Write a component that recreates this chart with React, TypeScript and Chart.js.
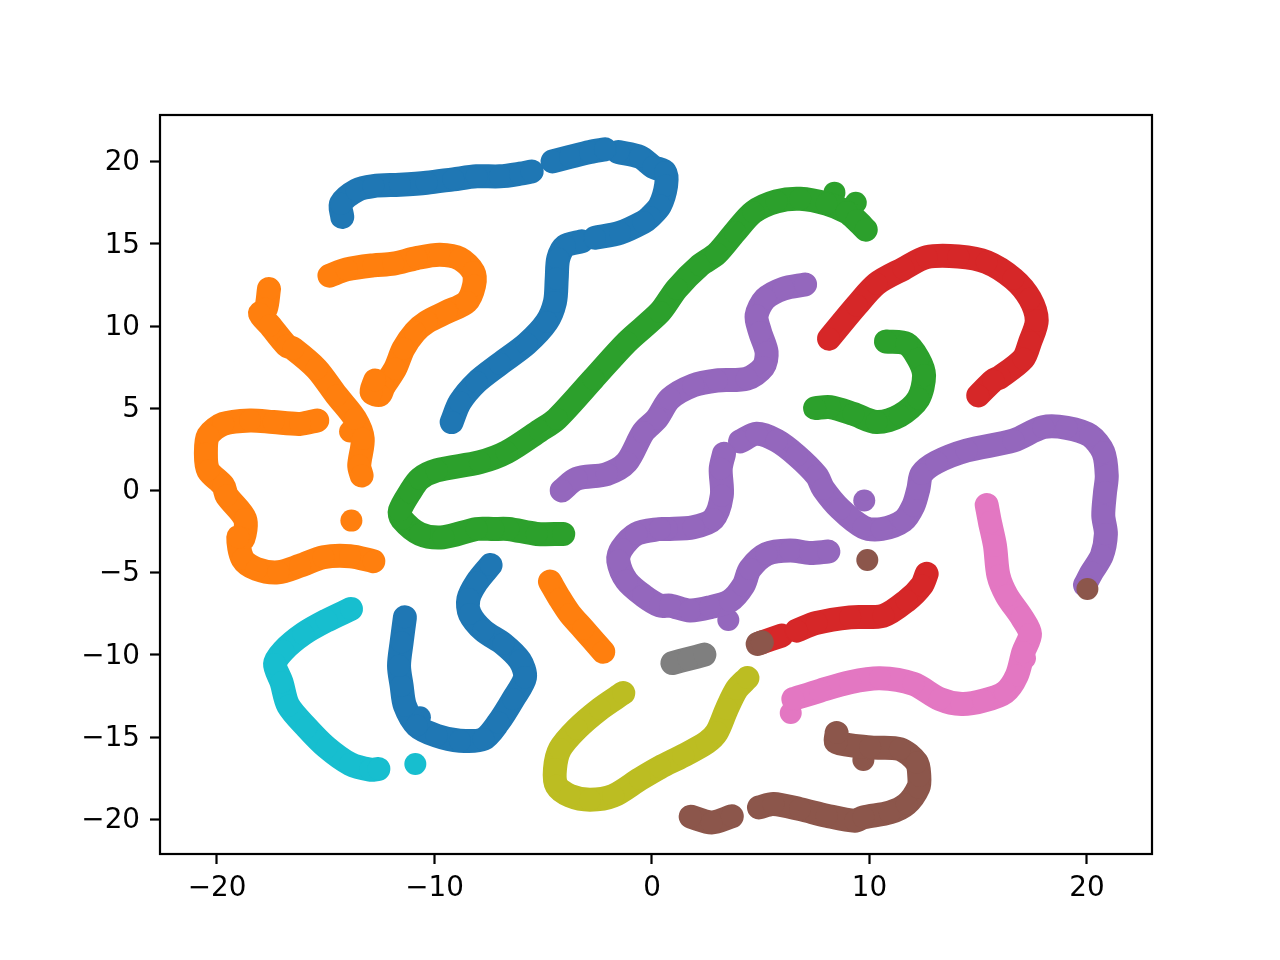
import React, { useEffect, useRef } from "react";
import { Chart, registerables } from "chart.js";

Chart.register(...registerables);

type P = [number, number];

const xTicks = [-20, -10, 0, 10, 20];
const yTicks = [-20, -15, -10, -5, 0, 5, 10, 15, 20];

const blueTop: P[] = [[-14.24,16.63],[-14.30,17.44],[-13.58,18.25],[-12.81,18.51],[-11.59,18.59],[-10.36,18.71],[-9.13,18.92],[-8.06,19.10],[-6.99,19.10],[-6.07,19.26],[-5.53,19.40]];
const blueLong: P[] = [[-4.57,20.01],[-3.77,20.28],[-2.85,20.58],[-2.16,20.74]];
const blueHook: P[] = [[-1.55,20.58],[-0.55,20.28],[0.06,19.67],[0.6,19.36],[0.65,18.55],[0.37,17.33],[-0.09,16.63],[-0.40,16.32],[-1.47,15.67],[-2.62,15.37]];
const blueDown: P[] = [[-3.23,15.15],[-4.0,14.86],[-4.31,14.09],[-4.38,12.87],[-4.46,11.46],[-4.84,10.24],[-5.76,8.92],[-6.99,7.70],[-8.06,6.59],[-8.83,5.37],[-9.21,4.16]];
const blueLow: P[] = [[-7.42,-4.53],[-8.06,-5.58],[-8.44,-6.59],[-8.37,-7.51],[-7.75,-8.52],[-6.83,-9.33],[-6.07,-10.34],[-5.84,-11.36],[-6.38,-12.68],[-7.06,-14.10],[-7.75,-15.11],[-8.83,-15.21],[-9.90,-14.91],[-10.82,-14.30],[-11.36,-13.08],[-11.51,-11.87],[-11.63,-10.65],[-11.51,-9.23],[-11.36,-7.71]];
const blueDot: P[] = [[-10.67,-13.79]];

const orangeA: P[] = [[-14.83,13.06],[-14.04,13.44],[-12.81,13.69],[-11.89,13.79],[-10.82,14.13],[-9.75,14.33],[-8.83,14.09],[-8.21,13.28],[-8.18,12.47],[-8.52,11.46],[-9.44,10.85],[-10.36,10.24],[-10.90,9.63],[-11.43,8.62],[-11.81,7.40],[-12.35,6.29],[-12.51,5.82],[-12.89,5.98],[-12.73,6.69]];
const orangeB: P[] = [[-17.61,12.25],[-17.75,11.05],[-18.02,10.75],[-17.56,10.04],[-16.80,8.82],[-16.49,8.62],[-15.42,7.40],[-14.50,5.78],[-13.65,4.36],[-13.30,3.14],[-13.46,1.52],[-13.35,0.91]];
const orangeBDot: P[] = [[-13.88,3.59]];
const orangeC: P[] = [[-15.39,4.26],[-16.18,4.05],[-17.41,4.16],[-18.48,4.26],[-19.71,4.05],[-20.40,3.34],[-20.51,2.23],[-20.40,1.22],[-19.71,0.30],[-19.55,-0.31],[-18.71,-1.73],[-18.79,-2.94],[-19.02,-2.84],[-18.82,-4.16],[-18.18,-4.77],[-17.18,-4.97],[-16.18,-4.57],[-15.11,-4.06],[-13.88,-4.0],[-12.81,-4.30]];
const orangeDot: P[] = [[-13.82,-1.83]];
const orangeD: P[] = [[-4.69,-5.54],[-4.23,-6.59],[-3.77,-7.51],[-3.16,-8.42],[-2.24,-9.80]];

const greenLong: P[] = [[-4.08,-2.64],[-5.30,-2.64],[-6.60,-2.34],[-7.29,-2.34],[-8.06,-2.34],[-9.59,-2.84],[-10.67,-2.64],[-11.51,-1.73],[-11.59,-1.22],[-11.13,-0.11],[-10.67,0.71],[-9.90,1.22],[-7.91,1.72],[-6.68,2.33],[-5.15,3.65],[-4.38,4.36],[-2.70,6.79],[-1.16,9.02],[0.37,10.85],[1.14,12.27],[2.21,13.69],[2.98,14.40],[3.82,15.71],[4.66,16.93],[5.73,17.58],[6.81,17.74],[8.03,17.44],[8.95,16.93],[9.41,16.42],[9.83,15.86]];
const greenDotA: P[] = [[8.39,18.11]];
const greenDotB: P[] = [[9.37,17.50]];
const greenHook: P[] = [[10.76,9.06],[11.71,8.92],[12.25,8.01],[12.51,7.0],[12.25,5.58],[11.40,4.56],[10.33,4.16],[9.26,4.66],[8.19,5.07],[7.50,5.01]];

const redArc: P[] = [[8.14,9.23],[9.41,11.25],[10.33,12.57],[11.56,13.48],[12.63,14.19],[14.09,14.23],[15.39,13.89],[16.62,12.87],[17.38,11.66],[17.69,10.34],[17.38,9.02],[17.07,8.01],[16.00,6.89],[15.70,6.69],[15.0,5.78]];
const redLow: P[] = [[12.63,-5.07],[12.40,-5.78],[11.71,-6.70],[10.64,-7.61],[9.11,-7.71],[7.57,-8.05],[6.65,-8.52]];
const redTail: P[] = [[5.96,-8.82],[4.97,-9.27]];

const purpleUpper: P[] = [[7.04,12.53],[6.04,12.27],[5.20,11.66],[4.81,10.64],[4.97,9.63],[5.27,8.41],[5.12,7.50],[4.35,6.79],[2.98,6.69],[1.90,6.39],[0.83,5.58],[0.22,4.36],[-0.4,3.55],[-1.16,1.72],[-2.08,1.0],[-3.46,0.71],[-4.15,0.0]];
const purpleMiddle: P[] = [[3.31,2.23],[3.16,1.32],[3.21,-0.31],[2.82,-1.73],[1.90,-2.23],[0.68,-2.34],[0.37,-2.34],[-0.71,-2.64],[-1.40,-3.55],[-1.55,-4.26],[-1.17,-5.48],[-0.40,-6.39],[0.37,-7.0],[0.83,-7.0],[1.75,-7.30],[2.67,-7.10],[3.59,-6.70],[4.2,-5.78],[4.51,-4.77],[5.27,-3.86],[6.35,-3.65],[7.27,-3.80],[8.11,-3.71]];
const purpleDotLow: P[] = [[3.51,-7.87]];
const purpleBig: P[] = [[4.05,2.98],[4.81,3.45],[5.73,3.04],[6.65,2.13],[7.57,0.91],[7.88,0.10],[8.65,-1.12],[9.72,-2.23],[10.56,-2.34],[11.56,-1.83],[12.02,-0.92],[12.25,0.10],[12.40,1.0],[13.09,1.72],[14.47,2.43],[16.62,3.04],[17.99,3.85],[19.07,3.81],[20.14,3.34],[20.75,2.33],[20.91,0.91],[20.83,-0.11],[20.75,-1.52],[20.87,-2.64],[20.68,-3.96],[20.22,-4.97],[19.91,-5.74]];
const purpleDot: P[] = [[9.76,-0.61]];

const brownDotA: P[] = [[9.90,-4.22]];
const brownDotB: P[] = [[20.02,-5.99]];
const brownDotC: P[] = [[4.86,-9.33],[5.05,-9.23]];
const brownShort: P[] = [[1.78,-19.83],[2.75,-20.18],[3.67,-19.81]];
const brownLong: P[] = [[4.92,-19.27],[5.58,-19.06],[6.81,-19.37],[8.03,-19.77],[9.34,-20.08],[9.72,-19.87],[10.94,-19.57],[11.71,-19.06],[12.25,-18.05],[12.29,-17.34],[12.17,-16.53],[11.40,-15.72],[10.03,-15.62],[8.49,-15.31],[8.49,-14.74]];
const brownDotD: P[] = [[9.72,-16.39]];

const pinkLong: P[] = [[15.39,-0.88],[15.54,-1.93],[15.77,-3.35],[15.93,-5.17],[16.31,-6.39],[17.0,-7.71],[17.38,-8.72],[17.07,-9.84],[16.77,-11.26],[16.23,-12.27],[15.24,-12.78],[14.24,-12.98],[13.24,-12.68],[12.02,-11.76],[10.48,-11.42],[9.11,-11.66],[7.73,-12.17],[6.50,-12.68]];
const pinkDotA: P[] = [[17.15,-10.20]];
const pinkDotB: P[] = [[6.38,-13.53]];

const grayShort: P[] = [[0.94,-10.49],[1.67,-10.24],[2.41,-9.98]];

const oliveLong: P[] = [[-1.32,-12.31],[-2.39,-13.28],[-3.46,-14.50],[-4.23,-15.72],[-4.46,-16.93],[-4.38,-17.95],[-3.77,-18.56],[-2.85,-18.80],[-1.78,-18.56],[-0.55,-17.54],[0.37,-16.83],[1.44,-16.12],[2.52,-15.31],[2.98,-14.70],[3.44,-13.28],[3.90,-12.07],[4.39,-11.40]];

const cyanLong: P[] = [[-13.84,-7.20],[-14.96,-7.91],[-16.03,-8.72],[-16.95,-9.74],[-17.33,-10.55],[-17.03,-11.66],[-16.72,-13.08],[-15.88,-14.40],[-14.96,-15.62],[-13.88,-16.63],[-12.96,-16.97],[-12.58,-16.93]];
const cyanDot: P[] = [[-10.88,-16.63]];

const series: { color: string; segments: P[][] }[] = [
  { color: "#1f77b4", segments: [blueTop, blueLong, blueHook, blueDown, blueLow, blueDot] },
  { color: "#ff7f0e", segments: [orangeA, orangeB, orangeBDot, orangeC, orangeDot, orangeD] },
  { color: "#2ca02c", segments: [greenLong, greenDotA, greenDotB, greenHook] },
  { color: "#d62728", segments: [redArc, redLow, redTail] },
  { color: "#9467bd", segments: [purpleUpper, purpleMiddle, purpleDotLow, purpleBig, purpleDot] },
  { color: "#8c564b", segments: [brownDotA, brownDotB, brownDotC, brownShort, brownLong, brownDotD] },
  { color: "#e377c2", segments: [pinkLong, pinkDotA, pinkDotB] },
  { color: "#7f7f7f", segments: [grayShort] },
  { color: "#bcbd22", segments: [oliveLong] },
  { color: "#17becf", segments: [cyanLong, cyanDot] },
];

const frame = {
  id: "frame",
  afterDraw(chart: any) {
    const { ctx, chartArea: a } = chart;
    ctx.save();
    ctx.strokeStyle = "#000";
    ctx.lineWidth = 2.2;
    ctx.strokeRect(a.left, a.top, a.right - a.left, a.bottom - a.top);
    ctx.restore();
  },
};

const axis = (values: number[], min: number, max: number, size: (s: any) => void, pad: number, shift: number) => ({
  type: "linear" as const,
  min,
  max,
  afterBuildTicks: (s: any) => {
    s.ticks = values.map((value) => ({ value }));
  },
  afterFit: size,
  border: { display: false },
  grid: { drawOnChartArea: false, drawTicks: true, tickLength: 10, tickWidth: 2.2, tickColor: "#000" },
  ticks: {
    autoSkip: false,
    maxRotation: 0,
    padding: pad,
    labelOffset: shift,
    color: "#000",
    font: { family: "DejaVu Sans", size: 27.8 },
    callback: (v: any) => String(v).replace("-", "\u2212"),
  },
});

export default function App() {
  const ref = useRef<HTMLCanvasElement>(null);
  useEffect(() => {
    const datasets = series.flatMap((s, i) =>
      s.segments.map((seg) => ({
        data: seg.map(([x, y]) => ({ x, y })),
        showLine: true,
        order: series.length - i,
        borderColor: s.color,
        backgroundColor: s.color,
        pointBackgroundColor: s.color,
      }))
    );
    const chart = new Chart(ref.current!, {
      type: "scatter",
      data: { datasets },
      plugins: [frame],
      options: {
        animation: false,
        responsive: false,
        layout: { padding: { top: 115, right: 128, left: 0, bottom: 0 } },
        elements: {
          line: { borderWidth: 24, borderJoinStyle: "round", borderCapStyle: "round", tension: 0.3 },
          point: { radius: 11, borderWidth: 0 },
        },
        plugins: { legend: { display: false }, tooltip: { enabled: false } },
        scales: {
          x: axis(xTicks, -22.62, 22.99, (s) => { s.height = 106; }, 8, 0),
          y: axis(yTicks, -22.1, 22.83, (s) => { s.width = 160; }, 10, 1.5),
        },
      },
    });
    return () => chart.destroy();
  }, []);
  return (
    <canvas
      ref={ref}
      width={1280}
      height={960}
      style={{ position: "fixed", left: 0, top: 0, width: 1280, height: 960, background: "#fff" }}
    />
  );
}
